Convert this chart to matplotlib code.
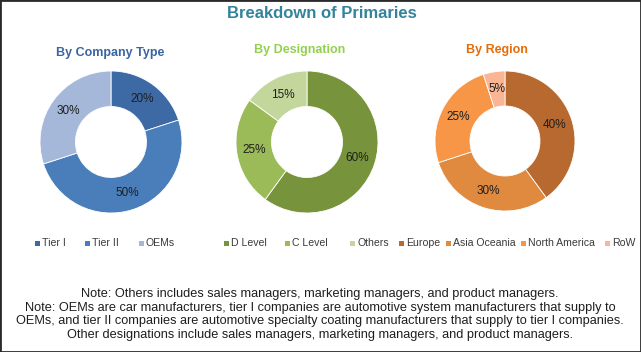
import matplotlib.pyplot as plt
from matplotlib.patches import Rectangle

# data
company_labels = ["Tier I", "Tier II", "OEMs"]
company_values = [20, 50, 30]
company_colors = ["#3d6aa5", "#4a7ebb", "#a6b8da"]

designation_labels = ["D Level", "C Level", "Others"]
designation_values = [60, 25, 15]
designation_colors = ["#77933c", "#9bbb59", "#c3d69b"]

region_labels = ["Europe", "Asia Oceania", "North America", "RoW"]
region_values = [40, 30, 25, 5]
region_colors = ["#b8692f", "#e08a3f", "#f79646", "#f9b594"]

FONT = ["Liberation Sans", "DejaVu Sans"]
W, H = 641, 352

fig = plt.figure(figsize=(W / 100, H / 100), dpi=100)
fig.patches.append(Rectangle((0, 0), 1, 1, transform=fig.transFigure,
                             fill=False, edgecolor="#2a2a2a", linewidth=2.0))


def donut(cx, cy, r, values, colors):
    ax = fig.add_axes([(cx - r) / W, 1 - (cy + r) / H, 2 * r / W, 2 * r / H])
    ax.pie(values, colors=colors, startangle=90, counterclock=False,
           radius=1, autopct="%d%%", pctdistance=0.75,
           wedgeprops=dict(width=0.5, edgecolor="white", linewidth=0.6),
           textprops=dict(fontsize=8.5, color="#1e1e1e", family=FONT))
    ax.set_xlim(-1, 1)
    ax.set_ylim(-1, 1)
    ax.axis("off")


donut(111, 142, 71, company_values, company_colors)
donut(307, 142, 71, designation_values, designation_colors)
donut(505, 141, 70, region_values, region_colors)

# titles
fig.text(322 / W, 1 - 14 / H, "Breakdown of Primaries", ha="center", va="center",
         fontsize=12, fontweight="bold", color="#31849b", family=FONT)
fig.text(110 / W, 1 - 53 / H, "By Company Type", ha="center", va="center",
         fontsize=9, fontweight="bold", color="#3b64a0", family=FONT)
fig.text(300 / W, 1 - 50 / H, "By Designation", ha="center", va="center",
         fontsize=9, fontweight="bold", color="#92d050", family=FONT)
fig.text(497 / W, 1 - 50 / H, "By Region", ha="center", va="center",
         fontsize=9, fontweight="bold", color="#e46c0a", family=FONT)

# legend items: square left edge in pixels
legend_x = {
    "Tier I": 35, "Tier II": 85, "OEMs": 139,
    "D Level": 224, "C Level": 285, "Others": 350,
    "Europe": 399, "Asia Oceania": 446, "North America": 521, "RoW": 605,
}
ly = 243
for labels, colors in [(company_labels, company_colors),
                       (designation_labels, designation_colors),
                       (region_labels, region_colors)]:
    for lab, col in zip(labels, colors):
        x = legend_x[lab]
        fig.patches.append(Rectangle((x / W, 1 - (ly + 2.5) / H), 5 / W, 5 / H,
                                     transform=fig.transFigure, facecolor=col,
                                     edgecolor="none"))
        fig.text((x + 7) / W, 1 - ly / H, lab, ha="left", va="center",
                 fontsize=7.6, color="#3a3a3a", family=FONT)

notes = [
    "Note: Others includes sales managers, marketing managers, and product managers.",
    "Note: OEMs are car manufacturers, tier I companies are automotive system manufacturers that supply to",
    "OEMs, and tier II companies are automotive specialty coating manufacturers that supply to tier I companies.",
    "Other designations include sales managers, marketing managers, and product managers.",
]
for i, line in enumerate(notes):
    fig.text(320 / W, 1 - (294 + i * 13.7) / H, line, ha="center", va="center",
             fontsize=9.2, color="#1e1e1e", family=FONT)

fig.savefig("out.png", dpi=100)
